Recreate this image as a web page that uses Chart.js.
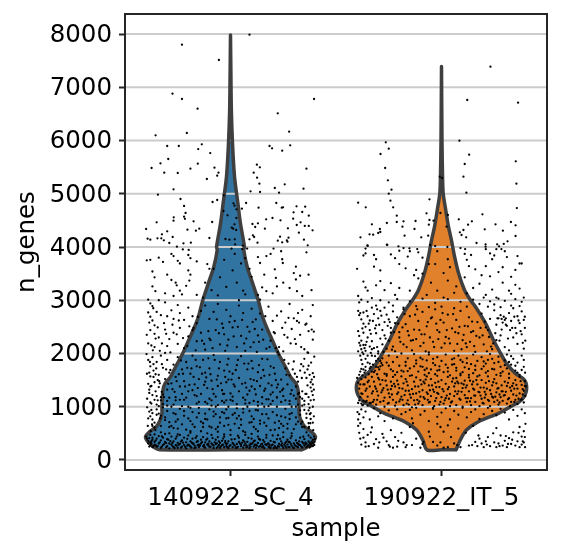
<!DOCTYPE html>
<html>
<head>
<meta charset="utf-8">
<style>html,body{margin:0;padding:0;background:#fff}canvas{display:block}</style>
<script src="https://cdn.jsdelivr.net/npm/chart.js@4"></script>
</head>
<body>
<canvas id="violin" width="561" height="556"></canvas>
<script>
const categories = ['140922_SC_4', '190922_IT_5'];
const yTickValues = [0, 1000, 2000, 3000, 4000, 5000, 6000, 7000, 8000];

// Violin profiles: n_genes level and half width in category units
const sc4Levels = [190,219,281,375,437,531,625,751,876,1001,1314,1439,1564,1752,2003,2316,2503,2691,3004,3317,3630,3943,4006,4444,4820,5321,5947,6573,7200,7980];
const sc4Widths = [.336,.355,.376,.398,.403,.384,.352,.333,.325,.325,.32,.31,.284,.26,.226,.191,.17,.152,.131,.105,.079,.063,.066,.047,.035,.019,.0095,.004,.002,0];
const it5Levels = [190,375,563,719,876,1001,1126,1314,1502,1627,1815,2003,2253,2566,2879,3004,3192,3505,3818,4131,4382,4695,5008,5321,5947,7390];
const it5Widths = [.069,.089,.118,.175,.27,.327,.379,.403,.393,.35,.308,.28,.246,.209,.161,.137,.109,.081,.062,.047,.033,.02,.008,.005,.0024,0];

// Cells as flat pairs: strip offset (hundredths of a category), n_genes
const sc4Cells = [
9,7988,-23,7800,-5.5,7512,-27.5,6880,-23,6780,-15.6,6598,39.6,6780,22.4,6510,-35.5,6097,-20.7,6141,27.8,6166,-30,5897,-24.5,5897,-13.6,5928,-15.3,5840,-9.6,5765,18.5,5897,19.7,5853,24.5,5809,28.3,5910,-29.5,5653,-33.2,5571,-37.4,5484,-31.4,5396,-25,5390,-19,5471,-15.5,5565,-7.6,5490,-5.7,5396,-6.3,5340,-11.2,5277,12.5,5546,13.9,5496,11,5396,12.6,5302,13.7,5190,36,5471,25.7,5177,21,5108,23,5020,34.6,5095,14,5033,9.5,5045,-27,5083,-34.4,4983,-23.7,4902,-8.5,4845,-6.3,4883,-3.2,4970,-22,4770,7.4,4826,21.7,4826,13.3,4739,24.3,4739,24.9,4745,31.3,4764,35.4,4758,-21.3,4639,-22,4570,-21.6,4530,-26.9,4557,-27,4495,-35,4463,-17.5,4482,-8.7,4470,-40,4338,-30,4294,-32.5,4238,-20.4,4326,-16.4,4307,-14.8,4344,-39.3,4157,-38,4138,-34.6,4163,-32.8,4163,-31.6,4125,-29,4075,-27.4,4188,-22.3,4069,-18.8,4082,-10,4169,-25.4,4006,-22.6,3955,-19.8,3945,
-3.3,4676,-1.4,4595,1.4,4820,1.9,4776,2.8,4707,5.4,4720,2.8,4545,1.9,4426,.6,4363,1.3,4344,2.7,4319,-2.4,4150,-.5,4138,2,4144,2.2,4050,.5,3970,5.8,4025,5.5,3962,7.9,3970,10.4,4432,13,4444,11.7,4376,16.3,4344,16.9,4520,19.9,4545,23.7,4501,27.2,4351,29.7,4532,29.9,4651,34,4657,37.1,4589,33.2,4463,31.4,4413,35.2,4395,37.1,4395,38.9,4313,32.4,4269,34.8,4138,36.6,4032,10.6,4219,11.2,4188,9,4144,12.8,4082,23.5,4194,27.5,4175,22.4,4119,24.5,4088,26.7,4125,27,4100,20.4,3970,
-39.7,3750,-38,3760,-34,3800,-32,3720,-28,3870,-27,3830,-25,3740,-24,3690,-20,3850,-19,3790,-16,3730,-11,3680,-8,3590,-3,3760,2,3870,5,3690,7,3790,13,3810,14,3700,17,3830,19,3870,24,3920,24.5,3770,24.8,3700,31,3630,36,3900,-37,3540,-36,3430,-30,3480,-28,3380,-26,3330,-25.5,3280,-20,3560,-19,3480,-19.5,3370,-12,3330,-10,3590,-5,3430,-2,3250,1,3560,3,3330,6,3180,9,3590,10,3440,15,3240,16,3480,21,3580,21.5,3420,25,3330,30,3510,31,3390,33,3460,37,3480,-37,3260,-35.6,3170,-31,3130,-27,3080,-24,3180,-23,3110,-21,3270,-16,3100,-13,3050,-9,3190,-6,3090,4,3000,7,3110,13,3100,14,3010,17,3170,20,3130,22,3260,28,3230,31.5,3170,34,3080,38.4,3190,-39,3010,-38,2940,-37,2890,-36.6,2850,-34,3000,-31,2960,
-39,2770,-38,2690,-37,2620,-36,2530,-35,2780,-33,2720,-30,2700,-28,2810,-27,2650,-25,2910,-24,2760,-22,2630,-20,2860,-18,2700,-16,2570,-14,2800,-12,2900,-10,2650,-8,2780,-6,2930,-4,2560,-2,2820,0,2700,2,2610,4,2900,6,2760,8,2500,10,2840,12,2640,14,2750,18,2880,20,2610,22,2710,24,2790,26,2580,28,2930,30,2660,32,2760,34,2820,36,2560,38,2700,39,2910,-38,2440,-36,2370,-34,2300,-31,2450,-29,2270,-27,2390,-25,2180,-24,2480,-22,2100,-20,2320,-18,2440,-16,2230,-14,2390,-12,2070,-10,2280,-7,2440,-5,2170,-3,2360,-1,2260,1,2490,3,2120,5,2330,7,2050,9,2410,11,2210,13,2340,15,2450,17,2090,19,2240,21,2380,23,2120,25,2040,27,2300,29,2460,31,2180,33,2350,35,2080,37,2420,39,2260,-39.7,2350,-39,2190,-36,2120,-33.5,2050,-30,2140,-31,2010,
-39.8,1990,-39,1880,-38,1760,-37,1930,-36.5,1680,-35,1840,-34,1600,-33,1960,-32,1730,-31,1520,-30,1880,-29,1640,-28,1440,-27,1790,-26,1560,-25,1930,-24,1380,-23,1700,-22,1480,-21,1840,-20,1290,-19,1620,-18,1960,-17,1420,-16,1760,-15,1520,-14,1240,-13,1880,-12,1640,-11,1350,-10,1720,-9,1490,-8,1970,-7,1190,-6,1580,-5,1840,-4,1310,-3,1680,-2,1460,-1,1900,0,1250,1,1620,2,1380,3,1780,4,1540,5,1950,6,1170,7,1450,8,1700,9,1300,10,1860,11,1500,12,1230,13,1650,14,1390,15,1900,16,1580,17,1140,18,1440,19,1760,20,1270,21,1620,22,1360,23,1980,24,1510,25,1200,26,1720,27,1420,28,1590,29,1310,30,1850,31,1150,32,1470,33,1680,34,1290,35,1900,36,1540,37,1770,38,1360,39,1630,39.7,1940,-38,1570,-36,1460,-34,1370,-32,1230,-30,1320,-26,1180,-22,1130,-18,1310,-15,1090,-12,1470,-9,1120,-6,1390,-3,1080,-1,1510,1,1110,4,1290,7,1060,10,1380,13,1090,16,1300,19,1050,22,1170,25,1340,28,1110,31,1380,34,1020,37,1180,39,1420,-39,1430,-38.5,1320,-37,1220,-36,1130,-35,1040,-33,1120,
-39.5,990,-38.5,910,-38,820,-37,760,-36,700,-35,950,-34,870,-33,640,-32,990,-31,800,-30,920,-29,710,-28,1000,-27,600,-26,860,-25,760,-24,960,-23,670,-22,830,-21,570,-20,1000,-19,730,-18,900,-17,620,-16,800,-15,980,-14,540,-13,690,-12,870,-11,760,-10,950,-9,610,-8,820,-7,1000,-6,530,-5,700,-4,900,-3,640,-2,780,-1,1000,0,560,1,850,2,680,3,970,4,600,5,760,6,890,7,520,8,1000,9,700,10,820,11,620,12,940,13,540,14,740,15,860,16,1000,17,640,18,780,19,560,20,900,21,700,22,1000,23,600,24,820,25,520,26,960,27,680,28,770,29,880,30,580,31,1000,32,720,33,850,34,620,35,940,36,790,37,690,38,880,39,1000,39.5,820,-33,520,-29,500,-25,480,-19,510,-11,500,-3,480,10,490,17,470,29,500,37,600,
-40,440,-39.5,400,-39,360,-39,310,-38,470,-38,330,-38,270,-37,420,-37,380,-37,240,-36,480,-36,340,-36,290,-35,400,-35,250,-34,450,-34,310,-33,370,-33,230,-32,420,-32,280,-31,490,-31,340,-30,260,-30,390,-29,310,-29,220,-28,440,-28,290,-27,350,-27,240,-26,400,-26,280,-25,320,-25,230,-24,470,-24,300,-23,370,-23,250,-22,280,-22,420,-21,330,-21,220,-20,460,-20,290,-19,350,-19,250,-18,310,-18,400,-17,270,-17,225,-16,340,-16,450,-15,290,-15,240,-14,380,-14,310,-13,260,-13,430,-12,330,-12,230,-11,290,-11,400,-10,250,-10,350,-9,310,-9,470,-8,270,-8,225,-7,380,-7,300,-6,250,-6,430,-5,320,-5,230,-4,280,-4,360,-3,240,-3,440,-2,300,-2,260,-1,350,-1,225,0,280,0,470,1,320,1,240,2,390,2,270,3,300,3,230,4,420,4,340,5,260,5,290,6,230,6,370,7,310,7,470,8,250,8,340,9,280,9,225,10,400,10,300,11,250,11,350,12,230,12,290,13,440,13,320,14,260,14,380,15,240,15,300,16,340,16,225,17,280,17,420,18,250,18,310,19,360,19,230,20,290,20,460,21,260,21,330,22,225,22,390,23,300,23,250,24,350,24,280,25,230,25,430,26,320,26,260,27,290,27,380,28,240,28,340,29,270,29,450,30,310,30,225,31,260,31,370,32,300,32,240,33,420,33,280,34,340,34,235,35,270,35,390,36,310,36,240,37,460,37,350,37,280,38,420,38,300,38,250,39,380,39,320,39,260,39.6,440,39.8,340,39.7,280,40,390,
-13.5,335,22.5,262,-31.5,298,6.5,345,-25.5,268,31.5,322,-8.5,288,15.5,372,-37.5,305,27.5,248,-2.5,325,35.5,296,-19.5,272,10.5,318,-28.5,356,1.5,292,-34.5,262,18.5,285,-5.5,350,24.5,312,-16.5,238,38.5,345,-22.5,325,12.5,268,-10.5,305,33.5,252,-0.5,262,-35.5,365,7.5,238,28.5,305,-27.5,262,20.5,342,-12.5,282,3.5,248,-38.5,412,16.5,295,-6.5,228,30.5,278,-20.5,398,25.5,288,-32.5,252,9.5,305,-3.5,288,36.5,262,-15.5,352,13.5,248,-24.5,285,5.5,325,-9.5,245,32.5,348,-30.5,318,21.5,232,-1.5,308,39.5,295,-17.5,305,11.5,362,-26.5,225,26.5,345,-7.5,332,2.5,232,-33.5,332,19.5,272,-11.5,378,34.5,312,-23.5,345,8.5,415,-4.5,255,37.5,235,-18.5,232,14.5,292,-29.5,382,23.5,398,-14.5,268,0.5,385,-36.5,258,29.5,238,-21.5,248,17.5,302,6.5,275,-8.5,412,-32.5,445,28.5,412,-16.5,415,34.5,438,-3.5,402,13.5,395,-25.5,440,22.5,465,3.5,455,-37.5,352,38.5,272,-12.5,242,31.5,252,-27.5,320,18.5,235,-1.5,240,9.5,252,-20.5,268,26.5,232,-6.5,312,35.5,328,-10.5,268,15.5,262,-35.5,278,4.5,308,-23.5,232,24.5,262,-2.5,355,32.5,288,-15.5,278,11.5,282,-30.5,238,37.5,322,-18.5,332,7.5,275,-38.5,252,20.5,225,-5.5,278,27.5,338,
-13,620,22,840,-31,750,6,960,-26,1120,31,670,-8,910,15,1180,-37,880,27,590,-3,1240,35,1040,-19,540,10,710,-29,1170,2,880,-34,1010,19,1230,-6,620,24,1090,-17,1220,38,770,-23,1010,12,580,-10,1150,33,930,-1,790,-36,610,7,1130,28,1050,-28,640,20,1110,-12,770,3,1050,-38,1080,16,700,-7,860,30,1210,-21,1170,25,640,-33,830,9,920,-4,1110,36,870,-16,1060,13,1020,-25,590,5,660,-9,1020,32,1040,-30,1110,21,570,-2,950,39,1220,-18,670,11,1110,-27,880,26,800,-7,580,1,1190,-33,1180,18,1010,-11,1060,34,720,-24,1130,8,1230,-5,800,37,1050,-19,980,14,680,-29,620,23,730,-14,720,0,1130,-35,1200,29,1000,-22,920,17,860,6,540,-8,1240,-32,1050,28,860,-16,1200,34,1150,-3,880,13,930,-26,720,22,1180,3,780,-37,640,38,1120,-12,1090,31,800,-27,1040,18,1140,-1,660,9,1070,-20,780,26,1120,-6,1030,35,620,-10,630,15,1060,-35,850,4,830,-23,1240,24,680,-2,1120,32,1240,-15,880,11,770,-30,1020,37,930,
-13.5,1620,22.5,1420,-31.5,1180,6.5,1810,-25.5,1480,31.5,1560,-8.5,1330,15.5,1690,-37.5,1390,27.5,1810,-2.5,1560,35.5,1240,-19.5,1410,10.5,1720,-28.5,1690,1.5,1420,-34.5,1500,18.5,1600,-5.5,1720,24.5,1310,-16.5,1880,38.5,1510,-22.5,1620,12.5,1480,-10.5,1910,33.5,1800,-0.5,1660,-35.5,1610,7.5,1360,28.5,1240,-27.5,1330,20.5,1730,-12.5,1410,3.5,1880,-38.5,1640,16.5,1340,-6.5,1510,30.5,1620,-20.5,1730,25.5,1880,-32.5,1800,9.5,1520,-3.5,1240,36.5,1400,-15.5,1350,13.5,1780,-24.5,1610,5.5,1430,-9.5,1610,32.5,1260,-30.5,1700,21.5,1500,-1.5,1790,39.5,1320,-17.5,1560,11.5,1330,-26.5,1280,26.5,1600,-7.5,1880,2.5,1690,-33.5,1440,19.5,1400,-11.5,1550,34.5,1760,-23.5,1870,8.5,1810,-4.5,1440,37.5,1600,-18.5,1720,14.5,1540,-29.5,1430,23.5,1280,-14.5,1740,0.5,1510,-36.5,1800,29.5,1700,-21.5,1380,17.5,1890,
-13.5,2240,22.5,2030,-31.5,2570,6.5,2190,-25.5,2360,31.5,2610,-8.5,2100,15.5,2260,-37.5,2150,27.5,2670,-2.5,2050,35.5,2540,-19.5,2510,10.5,2590,-28.5,2020,1.5,2320,-34.5,2490,18.5,2120,-5.5,2380,24.5,2480,-16.5,2060,38.5,2450,-22.5,2290,12.5,2030,-10.5,2420,33.5,2120,-0.5,2590,-35.5,2280,7.5,2280,28.5,2190,-27.5,2540,20.5,2400,-12.5,2180,3.5,2500,-38.5,2580,16.5,2700,-6.5,2640,30.5,2270,-20.5,2140,25.5,2350,-32.5,2190,9.5,2120,-3.5,2480,36.5,2020,-15.5,2690,13.5,2220,-24.5,2620,5.5,2630,-9.5,2250,32.5,2580,-30.5,2370,21.5,2100,-1.5,2150,39.5,2410,-17.5,2480,11.5,2460,
-39.5,1150,-38.5,1260,-37.5,1060,-39,780,-37.5,940,-35.5,1290,-34.5,1120,-38,1380,-36.5,1560,-39.6,1620,-38.2,1840,-36.8,2060,-35.2,1720,-33.8,1480,-32.6,1280,-37.2,670,-35.6,560,-33.4,780,-39.2,640,-37.8,540,39.5,1130,38.5,1290,37.5,980,39,700,37.6,860,36,1240,35,1110,38,1460,36.5,1700,39.6,1560,38.2,1830,36.8,2010,35.2,1640,33.8,1540,33,1180,37.2,620,36,520,33.4,680,39.2,560,37.8,690
];

const it5Cells = [
23.2,7387,12.2,6761,36.3,6711,-26.4,5966,-25,5847,8.5,5997,-28.9,5747,13.1,5734,35.2,5609,11,5559,-26.7,5484,10.4,5321,-.8,5321,.3,5296,-25.4,5252,35.5,5190,-23.7,5077,-25,5002,11.8,5020,-5.7,4895,-39.5,4833,-24.2,4870,-35.9,4745,-22.9,4745,35.7,4732,-21.2,4589,-7.1,4632,-.5,4639,3,4601,19.4,4613,8.2,4520,-5.7,4507,-3.8,4495,-12.3,4488,-18,4482,-21.2,4470,-25.9,4451,-33,4426,-6,4420,-18.5,4382,2.4,4382,-12.8,4338,-29.2,4338,-29,4282,-30,4263,-34.1,4238,-32.4,4232,-38.4,4182,-17.5,4213,-9.6,4182,-6.3,4213,14.4,4482,12.6,4420,10.4,4319,8.7,4275,9.5,4225,11.7,4182,20.5,4332,25.6,4426,29.1,4307,32.9,4470,35.1,4407,35.1,4207,31.3,4107,16.6,4075,20.9,4050,20.9,4006,26.4,4050,27.3,4013,29.5,4057,28.4,3962,11.2,3962,-35.1,4032,-36,3970,-25.9,4044,-20.4,4013,-15.2,3975,-11.5,3962,-5.4,4038,-3,4019,2.8,4000,
-35,4020,-36,3880,-37,3840,-32,3850,-31,3770,-25.7,4040,-24,3860,-22,3790,-20,3930,-18,3980,-16,3820,-15,3920,-11,3900,-9,3800,-6,3680,-2,3920,3,3770,9,3980,11,3870,12,3760,14,3850,21,3960,23,3880,24,3770,25,3840,26,3960,30,3920,31,3810,36,3830,37,3690,-40,3590,-32,3630,-29,3560,-20,3680,-17,3600,-13,3470,-12,3570,-9,3500,-3,3680,1,3510,4,3620,11,3430,13,3640,16,3580,19,3470,21,3640,23,3450,27,3530,29,3620,33,3440,35,3570,38,3690,-37,3350,-36,3240,-35,3180,-31,3280,-29,3360,-27,3190,-24,3320,-22,3100,-20,3230,-15,3180,-11,3410,-7,3100,-5,3330,-2,3180,1,3050,3,3370,6,3140,7,3260,12,3130,15,3230,18,3310,21,3100,24,3200,26,3050,29,3330,32,3180,33,3120,35,3290,37,3220,-39.5,3080,-39,2960,-38,3010,-35,2970,-33,3040,-31,2900,-29,3000,-27,2860,-25,2960,-23,2900,-21,3020,-18,2860,-15,2980,-12,2890,-9,3030,-6,2870,-3,2950,0,2880,3,3020,6,2850,9,2970,12,2880,15,3010,18,2930,20,3050,22,2880,23,2980,25,2920,27,3030,28,2870,30,2990,33,2900,35,3020,37,2890,38,2970,39,3050,
-39.5,2800,-39,2720,-38,2640,-37,2560,-37,2770,-36,2500,-35,2700,-34,2620,-33,2860,-32,2740,-31,2530,-30,2660,-29,2800,-28,2440,-27,2590,-26,2730,-25,2640,-24,2480,-23,2790,-22,2570,-21,2680,-20,2400,-18,2830,-17,2550,-15,2700,-13,2450,-11,2610,-9,2780,-7,2510,-5,2660,-3,2830,-1,2400,1,2580,3,2730,5,2470,7,2630,9,2800,11,2520,13,2680,15,2420,17,2590,19,2750,21,2490,23,2650,25,2810,26,2540,27,2660,28,2720,28.5,2650,29,2580,29.5,2690,30,2630,30.5,2660,31,2520,32,2760,33,2610,34,2850,35,2480,36,2700,37,2570,38,2790,39,2630,39.5,2480,-39.5,2420,-39,2330,-38,2240,-37,2390,-36,2160,-35,2300,-34,2440,-33,2230,-32,2100,-31,2380,-30,2040,-29,2280,-28,2170,-27,2340,-26,2090,-25,2240,-24,2390,-23,2130,-22,2040,-20,2300,-18,2170,-16,2420,-14,2060,-12,2270,-10,2140,-8,2360,-6,2020,-4,2220,-2,2440,0,2110,2,2310,4,2190,6,2050,8,2380,10,2250,12,2120,14,2400,16,2030,18,2300,20,2170,22,2440,24,2080,26,2250,28,2340,30,2120,32,2060,34,2300,36,2180,38,2360,39,2090,39.7,2240,-39.5,2040,-38.5,1960,-38,1880,-37.5,1800,-37,1990,-36,1900,-35,1830,-34,1720,-33,1960,-32,1650,-31,1860,-30,2000,-29,1760,-28,1910,-27,1620,-26,1830,-25,1960,-24,1700,-23,1840,-22,1600,-21,1930,-20,1770,-19,2000,-18,1660,-17,1840,-16,1910,-15,1720,-14,1590,-13,1990,-12,1810,-11,1660,-10,1920,-9,1750,-8,1600,-7,1870,-6,1980,-5,1700,-4,1820,-3,1610,-2,1930,-1,1760,0,1860,1,1650,2,1980,3,1730,4,1590,5,1890,6,1800,7,1680,8,1960,9,1620,10,1840,11,1740,12,1910,13,1600,14,1800,15,1980,16,1690,17,1860,18,1590,19,1930,20,1760,21,1640,22,1880,23,1990,24,1710,25,1820,26,1600,27,1940,28,1750,29,1660,30,1870,31,1980,32,1620,33,1790,34,1900,35,1680,36,1830,37,1600,38,1960,39,1750,39.6,1640,
-40,1540,-39.5,1450,-39,1340,-38,1520,-38,1250,-37,1420,-37,1110,-36,1550,-36,1300,-35,1190,-35,1460,-34,1380,-34,1070,-33,1560,-33,1250,-32,1470,-32,1130,-31,1340,-31,1040,-30,1540,-30,1210,-29,1420,-29,1090,-28,1310,-28,1500,-27,1170,-27,1000,-26,1400,-26,1580,-25,1250,-25,1070,-24,1470,-24,1330,-23,1130,-23,1560,-22,1380,-22,1020,-21,1240,-21,1490,-20,1100,-20,1350,-19,1570,-19,1190,-18,1440,-18,1030,-17,1300,-17,1520,-16,1120,-16,1400,-15,1230,-15,1580,-14,990,-14,1330,-13,1470,-13,1120,-12,1250,-12,1550,-11,1060,-11,1380,-10,1190,-10,1500,-9,1310,-9,1030,-8,1440,-8,1150,-7,1570,-7,1270,-6,1080,-6,1400,-5,1200,-5,1520,-4,1320,-4,980,-3,1450,-3,1110,-2,1260,-2,1580,-1,1040,-1,1370,0,1180,0,1500,1,1290,1,1060,2,1430,2,1160,3,1560,3,1330,4,1010,4,1240,5,1470,5,1100,6,1380,6,1200,7,1540,7,1030,8,1290,8,1440,9,1130,9,1590,10,1350,10,1000,11,1220,11,1490,12,1090,12,1400,13,1290,13,1550,14,1160,14,1030,15,1340,15,1470,16,1210,16,1090,17,1420,17,1570,18,1270,18,1010,19,1150,19,1500,20,1360,20,1060,21,1230,21,1450,22,1130,22,1570,23,1310,23,1010,24,1400,24,1190,25,1520,25,1090,26,1270,26,1440,27,1040,27,1350,28,1180,28,1580,29,1290,29,1110,30,1470,30,1220,31,1060,31,1390,32,1160,32,1540,33,1300,33,1090,34,1440,34,1230,35,1130,35,1500,36,1340,36,1050,37,1250,37,1560,38,1410,38,1140,39,1300,39,1080,39.5,1480,39.7,1200,40,1380,
-39.8,900,-39,860,-38,950,-37,800,-36,910,-34,760,-32,970,-30,820,-29,880,-27,730,-25,930,-23,780,-21,950,-19,860,-17,900,-15,940,-14,780,-12,980,-10,850,-8,920,-6,730,-4,960,-2,810,0,890,2,970,4,760,6,920,8,850,10,980,12,800,14,900,16,950,18,770,20,860,22,980,24,920,26,840,28,960,30,890,32,760,34,940,36,830,38,950,39.5,880,
-39.5,640,-39,510,-38.5,400,-38,290,-37,580,-36,250,-35,470,-33,610,-32,300,-31,390,-30,230,-28,490,-26,350,-25,280,-24,560,-23,230,-22,430,-21,250,-19,510,-18,330,-17,240,-15,620,-14,280,-12,400,-10,230,-9,300,-6,530,-4,340,-2,680,-2,270,1,530,1,230,3,650,3,240,6,310,8,590,9,240,13,270,15,640,16,340,17,260,18,400,19,310,20,240,21,350,22,430,23,260,25,330,26,600,26,240,27,310,28,460,29,270,30,360,31,240,32,410,33,300,34,520,35,270,36,350,37,240,37,620,38,440,38,290,39,540,39,330,39.6,240,39.8,680,
-13.5,1240,22.5,1110,-31.5,1380,6.5,1290,-25.5,1060,31.5,1450,-8.5,1180,15.5,1320,-37.5,1240,27.5,1080,-2.5,1370,35.5,1210,-19.5,1140,10.5,1420,-28.5,1270,1.5,1120,-34.5,1490,18.5,1210,-5.5,1310,24.5,1460,-16.5,1060,38.5,1330,-22.5,1430,12.5,1160,-10.5,1280,33.5,1390,-0.5,1090,-35.5,1110,7.5,1240,28.5,1400,-27.5,1350,20.5,1170,-12.5,1040,3.5,1370,-38.5,1180,16.5,1500,-6.5,1130,30.5,1280,-20.5,1420,25.5,1190,-32.5,1290,9.5,1440,-3.5,1010,36.5,1150,-15.5,1300,13.5,1100,-24.5,1180,5.5,1530,-9.5,1420,32.5,1010,-30.5,1130,21.5,1340,-1.5,1240,39.5,1390,-17.5,1220,11.5,1360,-26.5,1490,26.5,1120,-7.5,1510,2.5,1210,-33.5,1070,19.5,1070,-11.5,1130,34.5,1340,-23.5,1230,8.5,1150,-4.5,1400,37.5,1480,-18.5,1340,14.5,1420,-29.5,1510,23.5,1240,-14.5,1170,0.5,1330,-36.5,1420,29.5,1210,-21.5,1080,17.5,1280,6.5,1440,-8.5,1470,-32.5,1090,28.5,1290,-16.5,1470,34.5,1090,-3.5,1280,13.5,1490,-25.5,1320,22.5,1480,3.5,1150,-37.5,1030,38.5,1230,-12.5,1380,31.5,1140,-27.5,1110,18.5,1360,-1.5,1470,9.5,1280,-20.5,1270,26.5,1340,-6.5,1240,35.5,1410,-10.5,1100,15.5,1210,-35.5,1340,4.5,1080,-23.5,1390,24.5,1170,-2.5,1160,32.5,1360,-15.5,1040,11.5,1160,-30.5,1290,37.5,1130,-18.5,1130,7.5,1470,-38.5,1420,20.5,1280,-5.5,1090,27.5,1230,
-36,1090,-38,1060,-39,1120,-37,1040,-39.5,1070,-35,1020,-13,1760,22,1670,-31,1750,6,1910,-26,1610,31,1720,-8,1690,15,1630,-37,1700,27,1840,-3,1780,35,1770,-19,1680,10,1650,-29,1860,2,1790,-34,1810,19,1710,-6,1630,24,1900,-17,1770,38,1690,-23,1670,12,1820,-10,1760,33,1950,-1,1690,-36,1750,7,1730,28,1630,-28,1780,20,1850,-12,1870,3,1660,-38,1710,16,1770,-7,1720,30,1780,-21,1650,25,1700,-33,1660,9,1880,-4,1900,36,1640,-16,1670,13,1710,-25,1770,5,1790,-9,1890,32,1840,-30,1740,21,1810,-2,1680,39,1880,
-39,2200,-38.5,2150,-38,2080,-37.5,2020,-37,2160,-36.5,2100,-36,2050,-35.5,2220,-35,1960,-34,2130,-33.5,2010,-33,2080,-31.5,1950,-30.5,2120,-30,1900,-39,1600,-38.5,1660,-37.5,1590,-36.5,1640,-36,1680,-34.5,1610,-33.5,1750,-32.5,1790,-31.5,1680,-30.5,1610,-29.5,1700,-28.5,1820,
-13.5,2250,22.5,2310,-31.5,2470,6.5,2400,-25.5,2520,31.5,2280,-8.5,2200,15.5,2140,-37.5,2470,27.5,2240,-2.5,2560,35.5,2380,-19.5,2220,10.5,2350,-28.5,2710,1.5,2190,-34.5,2560,18.5,2480,-5.5,2300,24.5,2190,-16.5,2120,38.5,2200,-22.5,2400,12.5,2510,-10.5,2440,33.5,2480,-0.5,2630,-35.5,2800,7.5,2180,28.5,2450,-27.5,2030,20.5,2600,-12.5,2730,3.5,2280,-38.5,2760,16.5,2330,-6.5,2590,30.5,2540,-20.5,2560,25.5,2380,-32.5,2610,9.5,2080,-3.5,2120,36.5,2620,-15.5,2340,13.5,2220,-24.5,2590,5.5,2740,-9.5,2360,32.5,2440,-30.5,2830,21.5,2040,-1.5,2270,39.5,2690,-17.5,2740,11.5,2190,-26.5,2280,26.5,2660,-7.5,2040,2.5,2440,-33.5,2370,19.5,2340,-11.5,2830,34.5,2690,-23.5,2070,8.5,2500,-4.5,2680,37.5,2420,-18.5,2490,14.5,2600,-29.5,2540,23.5,2130,-14.5,2240,0.5,2760,
-39.5,760,-38.5,690,-37,420,-36,330,-34.5,260,-33.5,520,-29.5,330,-27.5,420,-24.5,250,-20.5,360,-16.5,280,-13.5,690,-8.5,340,-5.5,440,-0.5,620,-0.5,330,4.5,430,7.5,280,11.5,510,14.5,280,17.5,460,21.5,290,24.5,500,27.5,260,30.5,450,33.5,380,36.5,510,38.5,350,39.5,430,31.5,300
];

// Expands a profile into a closed outline around one category centre;
// the middle of the base keeps the bottom edge level
function outline(centre, levels, widths) {
  const pts = levels.map((y, i) => ({x: centre + widths[i], y}));
  for (let i = levels.length - 1; i >= 0; i--) pts.push({x: centre - widths[i], y: levels[i]});
  pts.push({x: centre, y: levels[0]});
  pts.push({...pts[0]});
  return pts;
}

function cells(centre, flat) {
  const pts = [];
  for (let i = 0; i < flat.length; i += 2) pts.push({x: centre + flat[i] / 100, y: flat[i + 1]});
  return pts;
}

const BLUE = '#3274a1', ORANGE = '#e1812c', EDGE = '#3f3f3f', GRID = '#cccccc', INK = '#262626';

const lineBase = {showLine: true, pointRadius: 0, tension: 0.3, borderCapStyle: 'round', borderJoinStyle: 'round'};
const datasets = [
  {...lineBase, data: outline(0, sc4Levels, sc4Widths), backgroundColor: BLUE, borderWidth: 0, fill: 'shape', order: 50},
  {...lineBase, data: outline(1, it5Levels, it5Widths), backgroundColor: ORANGE, borderWidth: 0, fill: 'shape', order: 50},
  // Horizontal rules sit above the violin bodies but under their edges
  ...yTickValues.map(v => ({showLine: true, pointRadius: 0, borderColor: GRID, borderWidth: 2, order: 40,
    data: [{x: -0.5, y: v}, {x: 1.5, y: v}]})),
  {...lineBase, data: outline(0, sc4Levels, sc4Widths), borderColor: EDGE, borderWidth: 3.5, fill: false, order: 30},
  {...lineBase, data: outline(1, it5Levels, it5Widths), borderColor: EDGE, borderWidth: 3.5, fill: false, order: 30},
  {data: cells(0, sc4Cells), backgroundColor: '#000', borderWidth: 0, pointRadius: 1.15, order: 10},
  {data: cells(1, it5Cells), backgroundColor: '#000', borderWidth: 0, pointRadius: 1.15, order: 10}
];

const frame = {
  id: 'frame',
  afterDraw(chart) {
    const {ctx, chartArea: a} = chart;
    ctx.save();
    ctx.strokeStyle = INK;
    ctx.lineWidth = 2;
    ctx.strokeRect(a.left, a.top, a.right - a.left, a.bottom - a.top);
    ctx.restore();
  }
};

const font = {family: '"DejaVu Sans"', size: 24.5};

new Chart(document.getElementById('violin'), {
  type: 'scatter',
  data: {datasets},
  plugins: [frame],
  options: {
    responsive: false,
    animation: false,
    devicePixelRatio: 1,
    layout: {padding: {top: 14, right: 14, left: 0, bottom: 0}},
    plugins: {legend: {display: false}, tooltip: {enabled: false}},
    scales: {
      x: {
        type: 'linear', min: -0.5, max: 1.5,
        afterBuildTicks(s) { s.ticks = categories.map((_, i) => ({value: i})); },
        afterFit(s) { s.height = 86; s.paddingLeft = 0; s.paddingRight = 0; },
        grid: {drawOnChartArea: false, drawTicks: true, tickLength: 6, tickWidth: 2, tickColor: INK},
        border: {display: false},
        ticks: {color: '#000', font, padding: 8, maxRotation: 0, autoSkip: false,
          callback: v => categories[v]},
        title: {display: true, text: 'sample', color: '#000', font, padding: {top: 6, bottom: 12}}
      },
      y: {
        type: 'linear', min: -188, max: 8376,
        afterBuildTicks(s) { s.ticks = yTickValues.map(value => ({value})); },
        afterFit(s) { s.width = 125; s.paddingTop = 0; s.paddingBottom = 0; },
        grid: {drawOnChartArea: false, drawTicks: true, tickLength: 6, tickWidth: 2, tickColor: INK},
        border: {display: false},
        ticks: {color: '#000', font, padding: 7, labelOffset: 1.5, autoSkip: false, callback: v => String(v)},
        title: {display: true, text: 'n_genes', color: '#000', font, padding: {top: 13, bottom: 6}}
      }
    }
  }
});
</script>
</body>
</html>
